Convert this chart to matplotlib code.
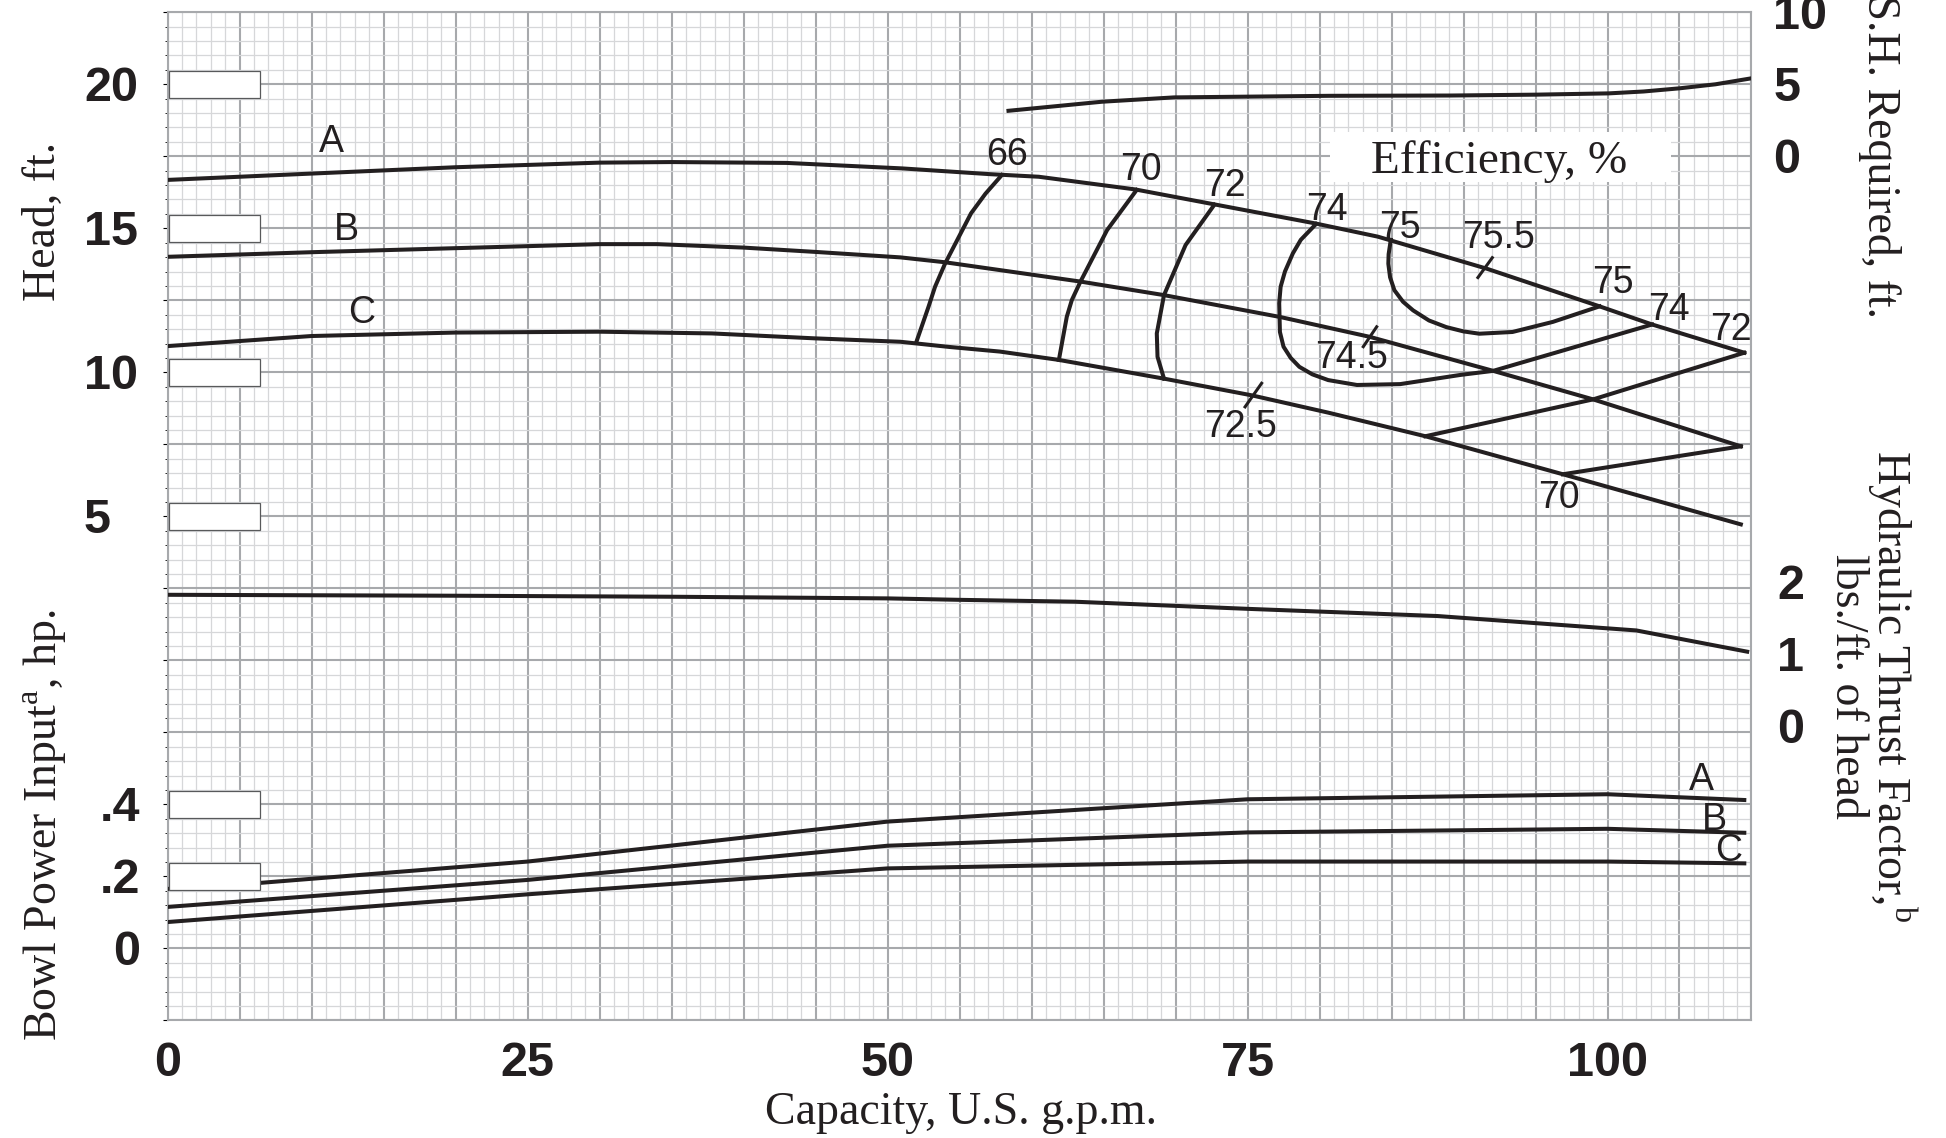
import matplotlib
matplotlib.use('Agg')
import matplotlib.pyplot as plt
from matplotlib.patches import Rectangle
from matplotlib.transforms import offset_copy
import numpy as np

plt.rcParams['font.family'] = ['Liberation Sans', 'DejaVu Sans']
plt.rcParams['mathtext.fontset'] = 'custom'
plt.rcParams['mathtext.rm'] = 'Liberation Serif'

INK = '#231f20'
MAJOR = '#a7a9ac'
MINOR = '#d6d7d9'
SERIF = 'Liberation Serif'

# head-capacity curves for impellers A, B, C (gpm, ft)
gpm_a = [0, 10, 20, 30, 35, 43, 51, 57.1, 60.5, 67.2, 72.6, 79.7, 84.05, 91.6, 99.45, 103.1, 109.5]
head_a = [16.68, 16.9, 17.12, 17.28, 17.3, 17.27, 17.08, 16.88, 16.79, 16.35, 15.84, 15.17, 14.71, 13.6, 12.29, 11.66, 10.68]
gpm_b = [0, 10, 20, 30, 34, 40, 45, 50.9, 54, 63.4, 69.2, 77.27, 83.5, 92.06, 99.0, 109.26]
head_b = [14.01, 14.17, 14.31, 14.45, 14.45, 14.33, 14.18, 13.99, 13.82, 13.15, 12.68, 11.92, 11.23, 10.05, 9.06, 7.43]
gpm_c = [0, 10, 20, 30, 37.8, 44.9, 50.9, 54.3, 57.8, 61.9, 69.2, 75.3, 80.6, 87.35, 96.9, 109.26]
head_c = [10.91, 11.26, 11.38, 11.41, 11.35, 11.18, 11.06, 10.88, 10.72, 10.43, 9.78, 9.2, 8.6, 7.78, 6.46, 4.72]

# iso-efficiency lines (gpm, ft)
e66_q = [57.94, 56.8, 55.8, 54.0, 53.3, 52.85, 52.0]
e66_h = [16.85, 16.2, 15.52, 13.78, 12.97, 12.28, 11.05]
e70_q = [67.3, 65.25, 63.4, 62.8, 62.45, 61.9]
e70_h = [16.33, 14.94, 13.15, 12.51, 11.93, 10.43]
e72_q = [72.7, 70.7, 69.2, 68.7, 68.75, 69.2]
e72_h = [15.82, 14.42, 12.68, 11.35, 10.54, 9.78]
e74_q = [79.76, 78.7, 78.15, 77.6, 77.3, 77.2, 77.25, 77.5, 78.0, 78.6, 79.5, 80.6, 82.6, 85.6, 89.8, 92.06, 103.1]
e74_h = [15.15, 14.6, 14.13, 13.5, 12.97, 12.4, 11.4, 10.89, 10.5, 10.19, 9.93, 9.73, 9.56, 9.59, 9.91, 10.05, 11.66]
e75_q = [84.95, 84.8, 84.78, 84.9, 85.2, 85.8, 86.5, 87.6, 88.8, 90.0, 91.1, 93.4, 96.2, 99.45]
e75_h = [14.6, 14.1, 13.77, 13.3, 12.85, 12.45, 12.15, 11.8, 11.57, 11.42, 11.34, 11.4, 11.75, 12.29]
e72r_q = [87.35, 99.0, 109.5]
e72r_h = [7.78, 9.06, 10.68]
e70r_q = [96.9, 109.26]
e70r_h = [6.46, 7.43]

# best efficiency tick marks
bep_q = [[91.0, 92.0], [83.04, 83.97], [74.83, 75.98]]
bep_h = [[13.29, 13.98], [10.89, 11.58], [8.8, 9.62]]

eff_labels = ['66', '70', '72', '74', '75', '75.5', '75', '74', '72', '74.5', '72.5', '70']
eff_lab_q = [58.3, 67.6, 73.4, 80.5, 85.6, 92.4, 100.4, 104.3, 108.6, 82.2, 74.5, 96.6]
eff_lab_h = [17.65, 17.12, 16.56, 15.75, 15.1, 14.76, 13.2, 12.27, 11.58, 10.6, 8.22, 5.74]

# N.P.S.H. required (ft)
gpm_np = [58.4, 64.9, 69.9, 80.7, 89.1, 95, 100.1, 102.5, 105, 107.5, 109.9]
npsh = [3.16, 3.79, 4.09, 4.2, 4.22, 4.28, 4.37, 4.5, 4.72, 5.0, 5.4]

# hydraulic thrust factor (lbs/ft of head)
gpm_th = [0, 20, 35, 50, 55, 63, 75, 88.2, 100, 102, 109.7]
thrust = [1.91, 1.897, 1.883, 1.86, 1.84, 1.814, 1.715, 1.615, 1.444, 1.415, 1.12]

# bowl power input (hp)
gpm_pa = [0, 6.5, 25, 50, 75, 100, 109.5]
pw_a = [0.165, 0.182, 0.241, 0.352, 0.414, 0.428, 0.412]
gpm_pb = [0, 25, 50, 75, 100, 109.5]
pw_b = [0.115, 0.19, 0.285, 0.322, 0.332, 0.321]
gpm_pc = [0, 25, 50, 75, 100, 109.5]
pw_c = [0.073, 0.15, 0.222, 0.241, 0.241, 0.236]

fig = plt.figure(figsize=(19.46, 11.38), dpi=100)
ax = fig.add_axes([0.0861, 0.1034, 0.81395, 0.8858])
ax.set_xlim(0, 110)
ax.set_ylim(-12.5, 22.5)
ax.set_xticks(np.arange(0, 111, 5))
ax.set_xticks(np.arange(0, 111, 1), minor=True)
ax.set_yticks(np.arange(-12.5, 22.6, 2.5))
ax.set_yticks(np.arange(-12.5, 22.6, 0.5), minor=True)
ax.grid(which='minor', color=MINOR, lw=0.9)
ax.grid(which='major', color=MAJOR, lw=1.5)
ax.set_xticklabels([str(v) if v % 25 == 0 else '' for v in range(0, 111, 5)],
                   fontsize=35, fontweight='bold', color=INK)
ax.tick_params(axis='x', which='both', length=0, pad=15)
ax.tick_params(axis='y', which='both', left=False, labelleft=False)
for s in ax.spines.values():
    s.set_color(MAJOR)
    s.set_linewidth(1.5)

lw = 2.9


def lab(a, px):
    # shift so that the digits' middle sits on the value
    return offset_copy(a.transData, fig=fig, y=-px, units='dots')


for q, h in [(gpm_a, head_a), (gpm_b, head_b), (gpm_c, head_c),
             (e66_q, e66_h), (e70_q, e70_h), (e72_q, e72_h), (e74_q, e74_h),
             (e75_q, e75_h), (e72r_q, e72r_h), (e70r_q, e70r_h)]:
    ax.plot(q, h, color=INK, lw=lw, zorder=3, solid_joinstyle='round')
for q, h in zip(bep_q, bep_h):
    ax.plot(q, h, color=INK, lw=2.2, zorder=3)
for t, q, h in zip(eff_labels, eff_lab_q, eff_lab_h):
    ax.text(q, h, t, fontsize=27, color=INK, ha='center', va='baseline', zorder=5,
            transform=lab(ax, 13))
for t, q, h in [('A', 11.4, 18.1), ('B', 12.4, 15.06), ('C', 13.5, 12.16)]:
    ax.text(q, h, t, fontsize=27, color=INK, ha='center', va='baseline', zorder=5,
            transform=lab(ax, 13))

# efficiency caption box
ax.add_patch(Rectangle((80.7, 16.62), 23.7, 1.73, fc='white', ec='none', zorder=4))
ax.text(92.5, 16.91, 'Efficiency, %', family=SERIF, fontsize=34, color=INK,
        ha='center', va='baseline', zorder=5)

# head scale
for h in [5, 10, 15, 20]:
    ax.add_patch(Rectangle((0.08, h - 0.46), 6.35, 0.925, fc='white', ec='#58595b',
                           lw=0.9, zorder=4))
    ax.text(-5.8, h, str(h), fontsize=35, fontweight='bold', color=INK,
            ha='left', va='baseline', clip_on=False, transform=lab(ax, 17))

# NPSH
ax_np = ax.twinx()
ax_np.set_ylim(-60, 10)
ax_np.axis('off')
ax_np.plot(gpm_np, npsh, color=INK, lw=lw, zorder=3)
for v in [0, 5, 10]:
    ax_np.text(111.5, v, str(v), fontsize=35, fontweight='bold', color=INK,
               ha='left', va='baseline', clip_on=False, transform=lab(ax_np, 17))

# thrust factor
ax_th = ax.twinx()
ax_th.set_ylim(-4, 10)
ax_th.axis('off')
ax_th.plot(gpm_th, thrust, color=INK, lw=lw, zorder=3)
for v in [0, 1, 2]:
    ax_th.text(111.8, v, str(v), fontsize=35, fontweight='bold', color=INK,
               ha='left', va='baseline', clip_on=False, transform=lab(ax_th, 11))

# bowl power
ax_pw = ax.twinx()
ax_pw.set_ylim(-0.2, 2.6)
ax_pw.axis('off')
for q, p in [(gpm_pa, pw_a), (gpm_pb, pw_b), (gpm_pc, pw_c)]:
    ax_pw.plot(q, p, color=INK, lw=lw, zorder=3)
for p in [0.2, 0.4]:
    ax_pw.add_patch(Rectangle((0.08, p - 0.037), 6.35, 0.074, fc='white', ec='#58595b',
                              lw=0.9, zorder=4))
for v, t in [(0.4, '.4'), (0.2, '.2'), (0.0, '0')]:
    ax_pw.text(-1.9, v, t, fontsize=35, fontweight='bold', color=INK,
               ha='right', va='baseline', clip_on=False, transform=lab(ax_pw, 17))
for t, q, p in [('A', 106.5, 0.477), ('B', 107.4, 0.366), ('C', 108.4, 0.278)]:
    ax_pw.text(q, p, t, fontsize=27, color=INK, ha='center', va='baseline',
               transform=lab(ax_pw, 13))

# axis titles
fig.text(0.494, 0.022, 'Capacity, U.S. g.p.m.', family=SERIF, fontsize=33,
         color=INK, ha='center', va='center')
fig.text(0.0226, 0.805, 'Head, ft.', family=SERIF, fontsize=33, color=INK,
         rotation=90, ha='center', va='center')
fig.text(0.0231, 0.275, 'Bowl Power Input$^{\\mathrm{a}}$, hp.', family=SERIF,
         fontsize=33, color=INK, rotation=90, ha='center', va='center')
fig.text(0.966, 0.896, 'N.P.S.H. Required, ft.', family=SERIF, fontsize=33,
         color=INK, rotation=-90, ha='center', va='center')
fig.text(0.9625, 0.397, 'Hydraulic Thrust Factor,$^{\\mathrm{b}}$\nlbs./ft. of head',
         family=SERIF, fontsize=33, color=INK, rotation=-90, ha='center',
         va='center', multialignment='center', linespacing=0.9)

fig.savefig('out.png', dpi=100)
